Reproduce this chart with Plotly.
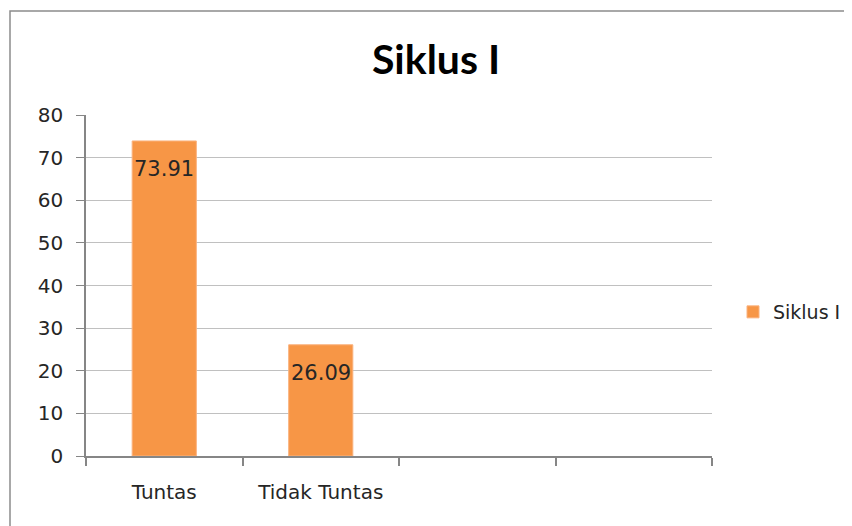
import plotly.graph_objects as go

categories = ["Tuntas", "Tidak Tuntas", " ", "  "]
values = [73.91, 26.09, None, None]
labels = ["73.91", "26.09", "", ""]
series_name = "Siklus I"
y_ticks = [0, 10, 20, 30, 40, 50, 60, 70, 80]

W, H = 852, 526
OFF = 8  # page body margin
# target pixel positions in the screenshot
PL, PR, PT, PB = 86, 712, 115, 456
L = PL - OFF
T = PT - OFF
pw, ph = PR - PL, PB - PT
R = W - L - pw
B = H - T - ph

def px_x(p):
    return (p - PL) / pw

def px_y(p):
    return (PB - p) / ph

FONT = "DejaVu Sans"
TFONT = "Lato"
TXT = "#262626"

fig = go.Figure()
fig.add_trace(go.Bar(
    x=categories, y=values, name=series_name,
    marker=dict(color="#F79646", line=dict(color="#FAB27E", width=1)),
    width=0.41, showlegend=True,
))

for c, v, t in zip(categories, values, labels):
    if v is None:
        continue
    fig.add_annotation(x=c, y=v, text=t, showarrow=False, yshift=-28,
                       yanchor="middle", xanchor="center",
                       font=dict(family=FONT, size=21, color=TXT))

fig.add_shape(type="rect", xref="paper", yref="paper",
              x0=px_x(10), x1=px_x(880), y0=px_y(11), y1=px_y(560),
              line=dict(color="#8C8C8C", width=1.5), fillcolor="rgba(0,0,0,0)",
              layer="below")

fig.update_layout(
    width=W, height=H,
    margin=dict(l=L, r=R, t=T, b=B, autoexpand=False),
    paper_bgcolor="white", plot_bgcolor="white",
    title=dict(text="<b>Siklus I</b>", x=px_x(436), xref="paper", xanchor="center",
               y=1 - (60 - OFF) / H, yref="container", yanchor="middle",
               font=dict(family=TFONT, size=41, color="black")),
    font=dict(family=FONT, color=TXT),
    showlegend=True,
    legend=dict(x=px_x(733), y=px_y(312), xanchor="left", yanchor="middle",
                font=dict(family=FONT, size=19, color=TXT), itemwidth=30,
                bgcolor="rgba(0,0,0,0)"),
    xaxis=dict(type="category", categoryorder="array", categoryarray=categories,
               range=[-0.5, 3.5], showgrid=False, showline=True,
               linecolor="#868686", linewidth=1.5,
               ticks="outside", tickson="boundaries", ticklen=8, tickcolor="#868686",
               tickwidth=1.5, ticklabelstandoff=17,
               tickfont=dict(family=FONT, size=20, color=TXT)),
    yaxis=dict(range=[0, 80], tickvals=y_ticks, showgrid=True, gridcolor="#C0C0C0",
               gridwidth=1.2, showline=True, linecolor="#868686", linewidth=1.5,
               ticks="outside", ticklen=8, tickcolor="#868686", tickwidth=1.2,
               zeroline=False, ticklabelstandoff=9,
               tickfont=dict(family=FONT, size=20, color=TXT)),
    bargap=0.59,
)

fig.write_html("out.html")
